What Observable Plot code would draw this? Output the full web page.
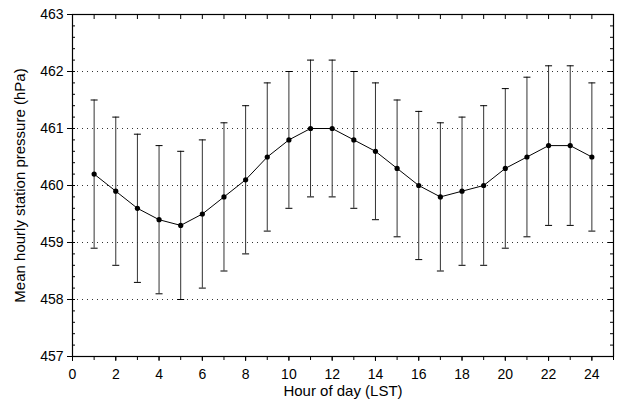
<!DOCTYPE html>
<html><head><meta charset="utf-8">
<script src="https://cdn.jsdelivr.net/npm/d3@7"></script>
<script src="https://cdn.jsdelivr.net/npm/@observablehq/plot@0.6"></script>
<style>body{margin:0;background:#fff}</style>
</head><body><div id="chart"></div>
<script>
const hours = [1,2,3,4,5,6,7,8,9,10,11,12,13,14,15,16,17,18,19,20,21,22,23,24];
const meanPressure = [460.2,459.9,459.6,459.4,459.3,459.5,459.8,460.1,460.5,460.8,461.0,461.0,460.8,460.6,460.3,460.0,459.8,459.9,460.0,460.3,460.5,460.7,460.7,460.5];
const lowPressure  = [458.9,458.6,458.3,458.1,458.0,458.2,458.5,458.8,459.2,459.6,459.8,459.8,459.6,459.4,459.1,458.7,458.5,458.6,458.6,458.9,459.1,459.3,459.3,459.2];
const highPressure = [461.5,461.2,460.9,460.7,460.6,460.8,461.1,461.4,461.8,462.0,462.2,462.2,462.0,461.8,461.5,461.3,461.1,461.2,461.4,461.7,461.9,462.1,462.1,461.8];
const xTicks = [0,2,4,6,8,10,12,14,16,18,20,22,24];
const yTicks = [457,458,459,460,461,462,463];
const gridY = [458,459,460,461,462];

const data = hours.map((h,i)=>({hour:h, mean:meanPressure[i], lo:lowPressure[i], hi:highPressure[i]}));
const xMinor = d3.range(0, 26, 1);
const yMinor = d3.range(457, 463.001, 0.2);

const capSymbol = {draw(ctx, size) { const w = 3.5; ctx.moveTo(-w, 0); ctx.lineTo(w, 0); }};

const chart = Plot.plot({
  width: 617, height: 413,
  marginLeft: 72, marginRight: 4, marginTop: 14, marginBottom: 57,
  style: {fontFamily: "Liberation Sans, Arial, sans-serif", fontSize: "14px", color: "#000"},
  x: {type: "linear", domain: [0, 25]},
  y: {type: "linear", domain: [457, 463]},
  marks: [
    Plot.ruleY(gridY, {stroke: "#000", strokeWidth: 1, strokeDasharray: "1,4", strokeOpacity: 0.8}),
    Plot.axisX({ticks: xTicks, tickSize: 5, tickPadding: 8, tickFormat: "d", fontSize: 14, label: null}),
    Plot.text(["Hour of day (LST)"], {frameAnchor: "bottom", textAnchor: "middle", lineAnchor: "middle", dy: 35, fontSize: 15}),
    Plot.axisX({ticks: xMinor, tickSize: 4, text: null, label: null}),
    Plot.axisX({anchor: "top", ticks: xMinor, tickSize: -4, text: null, label: null}),
    Plot.axisY({ticks: yTicks, tickSize: 5, tickPadding: 4, tickFormat: "d", fontSize: 14, label: null}),
    Plot.text(["Mean hourly station pressure (hPa)"], {frameAnchor: "left", textAnchor: "middle", lineAnchor: "middle", dx: -52, rotate: -90, fontSize: 15}),
    Plot.axisY({ticks: yMinor, tickSize: -3, text: null, label: null}),
    Plot.axisY({anchor: "right", ticks: yMinor, tickSize: -4, text: null, label: null}),
    Plot.axisY({anchor: "right", ticks: yTicks, tickSize: -6, text: null, label: null}),
    Plot.frame({stroke: "#000", strokeWidth: 1.2}),
    Plot.ruleX(data, {x: "hour", y1: "lo", y2: "hi", stroke: "#333", strokeWidth: 1}),
    Plot.dot(data, {x: "hour", y: "lo", symbol: capSymbol, stroke: "#000", strokeWidth: 1, fill: "none"}),
    Plot.dot(data, {x: "hour", y: "hi", symbol: capSymbol, stroke: "#000", strokeWidth: 1, fill: "none"}),
    Plot.line(data, {x: "hour", y: "mean", stroke: "#000", strokeWidth: 1}),
    Plot.dot(data, {x: "hour", y: "mean", r: 2.6, fill: "#000", stroke: "none"})
  ]
});
document.getElementById("chart").appendChild(chart);
</script>
</body></html>
